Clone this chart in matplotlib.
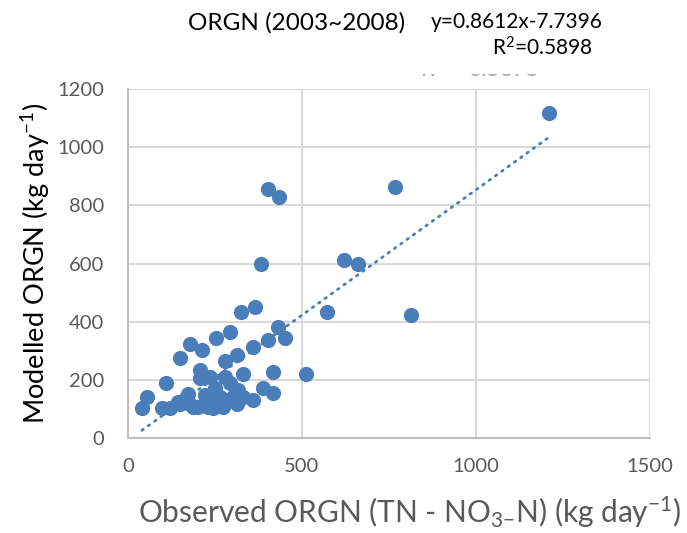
import matplotlib
matplotlib.use("Agg")
import matplotlib.pyplot as plt
import numpy as np

plt.rcParams['font.family'] = ['Lato', 'DejaVu Sans']
plt.rcParams['mathtext.fontset'] = 'custom'
plt.rcParams['mathtext.rm'] = 'Lato'
plt.rcParams['mathtext.it'] = 'Lato:italic'

# observed vs modelled ORGN (kg/day)
observed = [40, 54, 97, 108, 121, 145, 149, 164, 173, 178, 188, 202, 207, 207,
            231, 236, 221, 245, 250, 255, 264, 274, 279, 284, 293, 303, 312, 317,
            331, 331, 360, 389, 418, 418, 512, 149, 178, 212, 253, 279, 312, 360,
            324, 366, 381, 403, 435, 403, 451, 430, 293, 573, 621, 662, 768, 812,
            1211]
modelled = [104, 142, 104, 190, 102, 125, 119, 136, 153, 119, 108, 108, 234, 205,
            108, 211, 148, 102, 171, 125, 142, 108, 211, 131, 188, 142, 119, 165,
            222, 142, 131, 171, 156, 226, 222, 274, 325, 302, 343, 266, 285, 314,
            432, 449, 597, 858, 829, 337, 343, 383, 365, 432, 612, 600, 864, 423,
            1119]

slope = 0.8612
intercept = -7.7396
r2 = 0.5898

x_ticks = [0, 500, 1000, 1500]
y_ticks = [0, 200, 400, 600, 800, 1000, 1200]

blue = '#4a7ebb'
grey = '#595959'

fig = plt.figure(figsize=(6.87, 5.33), dpi=100)
ax = fig.add_axes([0.1863, 0.178, 0.7597, 0.655])

ax.scatter(observed, modelled, s=120, color=blue, zorder=3, linewidths=0)

# linear trendline over the data range
xl = np.array([min(observed), max(observed)])
ax.plot(xl, slope * xl + intercept, color=blue, lw=2, ls=(0, (0.6, 2.2)),
        dash_capstyle='round', zorder=2)

ax.set_xlim(0, 1500)
ax.set_ylim(0, 1200)
ax.set_xticks(x_ticks)
ax.set_yticks(y_ticks)
ax.grid(True, color='#d9d9d9', lw=1.5)
ax.set_axisbelow(True)
ax.tick_params(length=0, labelsize=14.5, colors=grey, pad=14)
ax.tick_params(axis='y', pad=17)
for s in ['top', 'right']:
    ax.spines[s].set_visible(False)
for s in ['left', 'bottom']:
    ax.spines[s].set_color('#bfbfbf')
    ax.spines[s].set_linewidth(1.5)

ax.set_ylabel('Modelled ORGN (kg day$^{-1}$)', fontsize=19.5, color='black', labelpad=4)
ax.set_xlabel('Observed ORGN (TN - NO$_{3\mathrm{-}}$N) (kg day$^{-1}$)',
              fontsize=21.5, color=grey)
ax.xaxis.set_label_coords(0.539, -0.16)

fig.text(0.432, 0.958, 'ORGN (2003~2008)', fontsize=17.5, ha='center', va='center')
fig.text(0.627, 0.958, 'y=0.8612x-7.7396', fontsize=15, ha='left', va='center')
fig.text(0.716, 0.911, 'R$^2$=%.4f' % r2, fontsize=15, ha='left', va='center')

# faint, half hidden duplicate label behind the plot area
fig.text(0.612, 0.868, 'R$^2$ = %.4f' % r2, fontsize=16, ha='left', va='center',
         color='#a6a6a6')
fig.patches.append(plt.Rectangle((0.55, 0.861), 0.35, 0.032, transform=fig.transFigure,
                                 facecolor='white', edgecolor='none', zorder=5))

fig.savefig('out.png', dpi=100)
